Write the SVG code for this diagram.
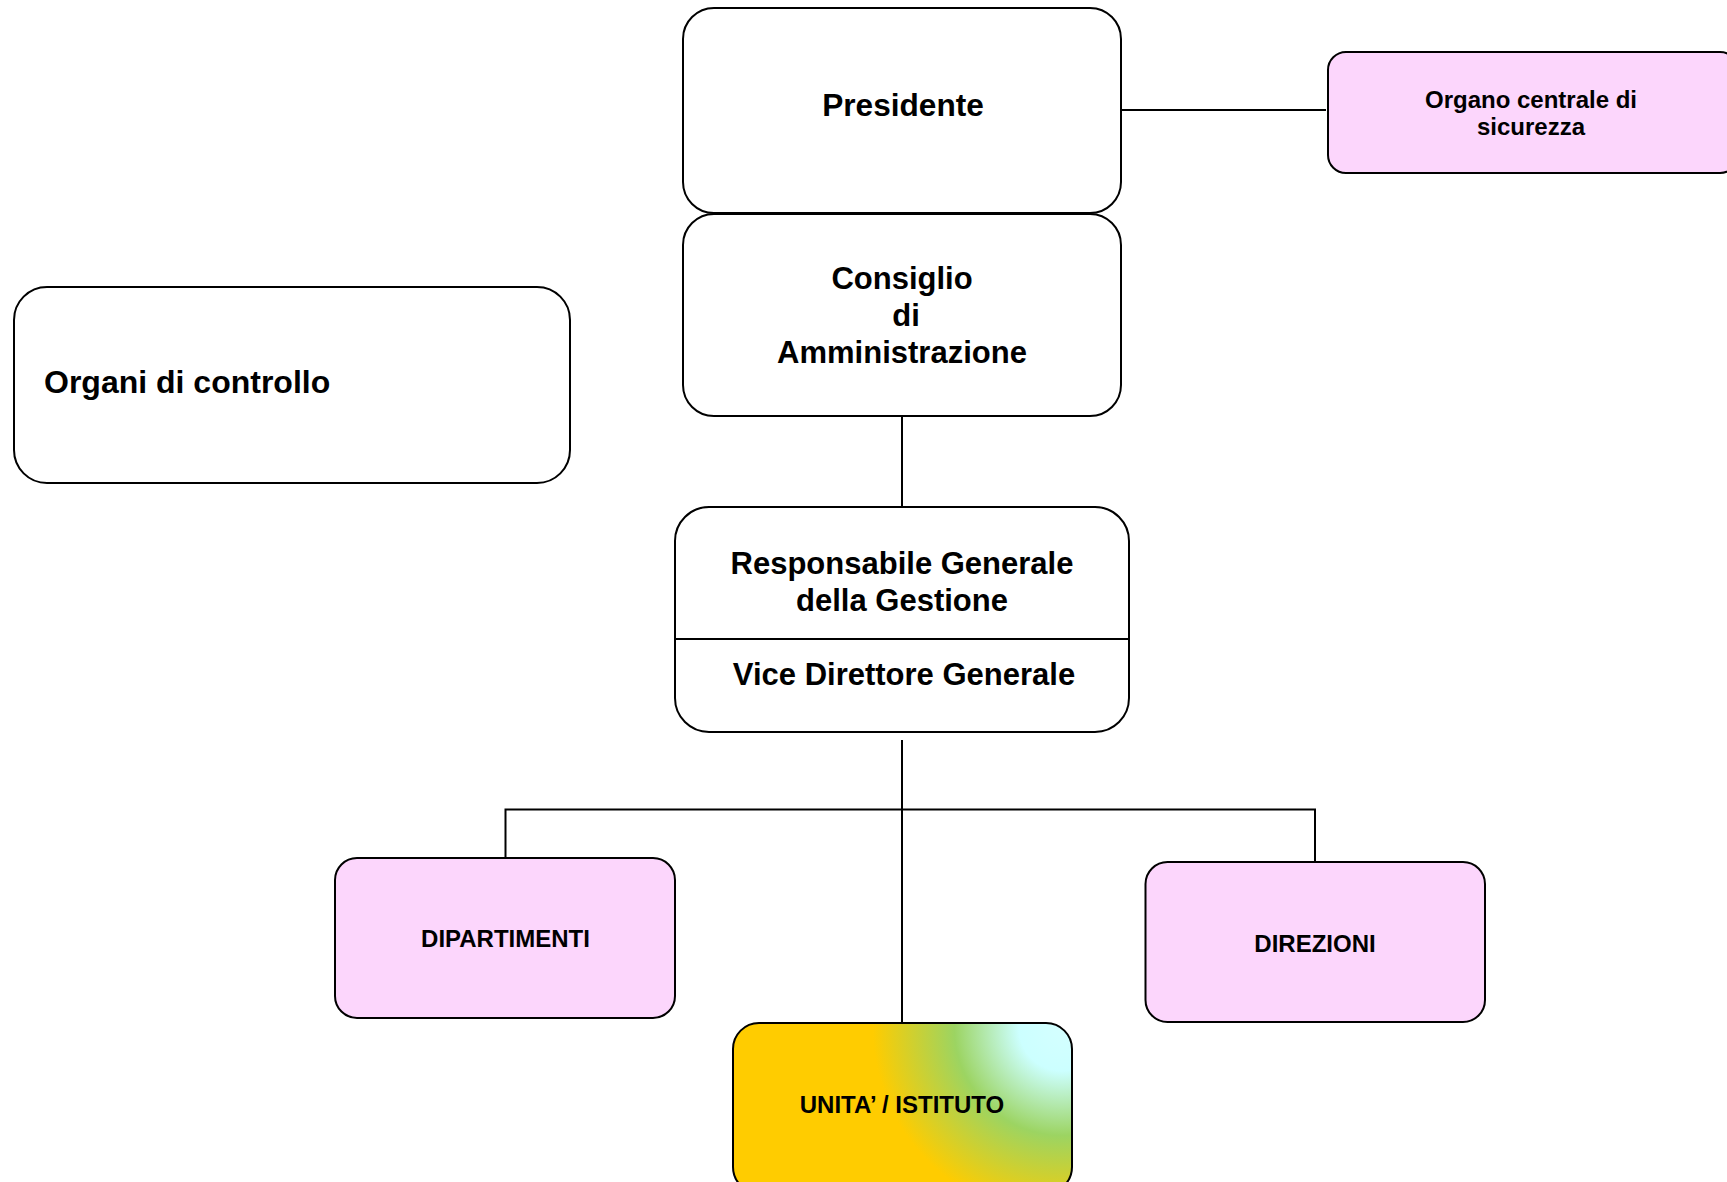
<svg xmlns="http://www.w3.org/2000/svg" width="1727" height="1182" viewBox="0 0 1727 1182">
  <defs>
    <radialGradient id="unitaGrad" gradientUnits="userSpaceOnUse" cx="1062" cy="1028" r="215">
      <stop offset="0" stop-color="#D4FFFF"/>
      <stop offset="0.2" stop-color="#CCFFFF"/>
      <stop offset="0.5" stop-color="#9CD462"/>
      <stop offset="0.88" stop-color="#FFCC00"/>
      <stop offset="1" stop-color="#FFCC00"/>
    </radialGradient>
  </defs>
  <style>
    .box { fill: #FFFFFF; stroke: #000000; stroke-width: 2; }
    .pink { fill: #FCD6FC; stroke: #000000; stroke-width: 2; }
    .conn { stroke: #000000; stroke-width: 2; fill: none; }
    .big { font-family: "Liberation Sans", Arial, sans-serif; font-weight: bold; font-size: 31px; fill: #000000; }
    .small { font-family: "Liberation Sans", Arial, sans-serif; font-weight: bold; font-size: 24px; fill: #000000; }
    .mid { font-family: "Liberation Sans", Arial, sans-serif; font-weight: bold; font-size: 24px; fill: #000000; }
  </style>
  <rect width="1727" height="1182" fill="#FFFFFF"/>

  <g id="connectors">
    <line class="conn" x1="1121" y1="110" x2="1326" y2="110"/>
    <line class="conn" x1="902" y1="416" x2="902" y2="507"/>
    <line class="conn" x1="902" y1="740" x2="902" y2="1023"/>
    <polyline class="conn" points="505.5,858 505.5,809.5 1315,809.5 1315,862"/>
  </g>

  <g id="presidente">
    <rect class="box" x="683" y="8" width="438" height="205" rx="31" ry="31"/>
    <text class="big" x="903" y="116" text-anchor="middle" style="font-size:31.6px">Presidente</text>
  </g>

  <g id="consiglio">
    <rect class="box" x="683" y="214" width="438" height="202" rx="31" ry="31"/>
    <text class="big" x="902" y="289" text-anchor="middle">Consiglio</text>
    <text class="big" x="906" y="326" text-anchor="middle">di</text>
    <text class="big" x="902" y="363" text-anchor="middle">Amministrazione</text>
  </g>

  <g id="organo-centrale">
    <rect class="pink" x="1328" y="52" width="410" height="121" rx="18" ry="18"/>
    <text class="mid" x="1531" y="108" text-anchor="middle">Organo centrale di</text>
    <text class="mid" x="1531" y="135" text-anchor="middle">sicurezza</text>
  </g>

  <g id="organi-controllo">
    <rect class="box" x="14" y="287" width="556" height="196" rx="33" ry="33"/>
    <text class="big" x="44" y="393" style="font-size:32px">Organi di controllo</text>
  </g>

  <g id="responsabile">
    <rect class="box" x="675" y="507" width="454" height="225" rx="34" ry="34"/>
    <line class="conn" x1="675" y1="639" x2="1129" y2="639"/>
    <text class="big" x="902" y="574" text-anchor="middle">Responsabile Generale</text>
    <text class="big" x="902" y="611" text-anchor="middle">della Gestione</text>
    <text class="big" x="904" y="685" text-anchor="middle">Vice Direttore Generale</text>
  </g>

  <g id="dipartimenti">
    <rect class="pink" x="335" y="858" width="340" height="160" rx="22" ry="22"/>
    <text class="small" x="505.5" y="947" text-anchor="middle">DIPARTIMENTI</text>
  </g>

  <g id="direzioni">
    <rect class="pink" x="1145.5" y="862" width="339.5" height="160" rx="22" ry="22"/>
    <text class="small" x="1315" y="952" text-anchor="middle">DIREZIONI</text>
  </g>

  <g id="unita">
    <rect x="733" y="1023" width="339" height="170" rx="26" ry="26" fill="url(#unitaGrad)" stroke="#000000" stroke-width="2"/>
    <text class="small" x="902" y="1113" text-anchor="middle">UNITA’ / ISTITUTO</text>
  </g>
</svg>
